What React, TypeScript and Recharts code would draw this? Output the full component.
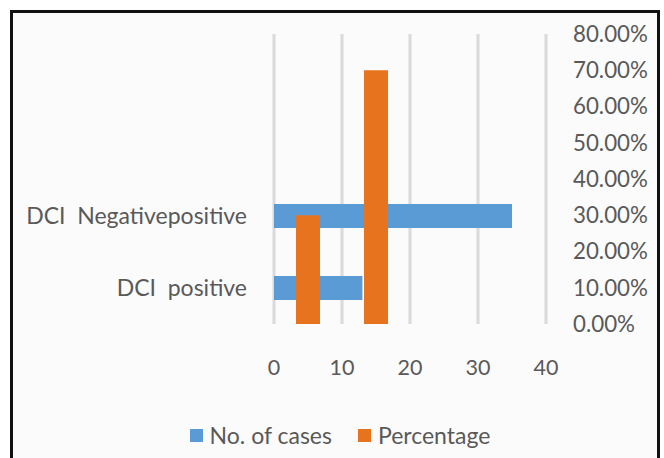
// DCI cases: horizontal bars (count) overlaid with vertical bars (percentage) on a secondary axis
import { BarChart, Bar, XAxis, YAxis, CartesianGrid } from 'recharts';

const categories = ['DCI\u00a0\u00a0positive', 'DCI\u00a0\u00a0Negativepositive'];
const cases = [13, 35];
const percentage = [0.3, 0.7];
const caseTicks = [0, 10, 20, 30, 40];
const pctTicks = [0, 0.1, 0.2, 0.3, 0.4, 0.5, 0.6, 0.7, 0.8];

const series = [
  { name: 'No. of cases', color: '#5B9BD5' },
  { name: 'Percentage', color: '#E8731F' },
];

const data = categories.map((c, i) => ({ cat: c, cases: cases[i], pct: percentage[i] }));

const FONT = 'Lato, "Open Sans", sans-serif';
const tickStyle = { fontSize: 21.5, fill: '#595959', fontFamily: FONT };
const W = 664;
const H = 458;

export default function App() {
  return (
    <div style={{ position: 'absolute', left: 0, top: 0, width: W, height: H, background: '#fff', overflow: 'hidden' }}>
      <div
        style={{
          position: 'absolute', left: 10, top: 10, width: 650, height: 460,
          boxSizing: 'border-box', border: '3px solid #111', background: '#fbfbfb',
        }}
      />
      {/* count bars, horizontal */}
      <div style={{ position: 'absolute', left: 0, top: 0 }}>
        <BarChart width={W} height={H} data={data} layout="vertical"
          margin={{ top: 34, right: 118, bottom: 74, left: 14 }}>
          <CartesianGrid horizontal={false} stroke="#dadada" strokeWidth={3} />
          <XAxis type="number" dataKey="cases" domain={[0, 40]} ticks={caseTicks}
            axisLine={false} tickLine={false} height={60} tickSize={6} tickMargin={30} tick={tickStyle} />
          <YAxis type="category" dataKey="cat" reversed width={260} padding={{ top: 146, bottom: 0 }}
            axisLine={false} tickLine={false} tickSize={6} tickMargin={21} tick={{ ...tickStyle, fontSize: 23 }} />
          <Bar dataKey="cases" fill={series[0].color} barSize={24} isAnimationActive={false} />
        </BarChart>
      </div>
      {/* percentage bars, vertical on secondary axis */}
      <div style={{ position: 'absolute', left: 0, top: 0 }}>
        <BarChart width={W} height={H} data={data}
          margin={{ top: 34, right: 18, bottom: 134, left: 274 }}>
          <XAxis type="category" dataKey="cat" hide padding={{ left: 0, right: 136 }} />
          <YAxis yAxisId="pct" orientation="right" type="number" domain={[0, 0.8]} ticks={pctTicks}
            width={100} axisLine={false} tickLine={false} tickSize={6} tickMargin={21}
            tick={{ ...tickStyle, fontSize: 22.3 }} tickFormatter={(v: number) => (v * 100).toFixed(2) + '%'} />
          <Bar yAxisId="pct" dataKey="pct" fill={series[1].color} barSize={24} isAnimationActive={false} />
        </BarChart>
      </div>
      <div style={{
        position: 'absolute', left: 0, top: 421, width: 680, display: 'flex', justifyContent: 'center',
        gap: 26, fontFamily: FONT, fontSize: 23, color: '#595959',
      }}>
        {series.map((s) => (
          <div key={s.name} style={{ display: 'flex', alignItems: 'center', gap: 7 }}>
            <span style={{ width: 13, height: 13, background: s.color, display: 'inline-block' }} />
            <span>{s.name}</span>
          </div>
        ))}
      </div>
    </div>
  );
}
